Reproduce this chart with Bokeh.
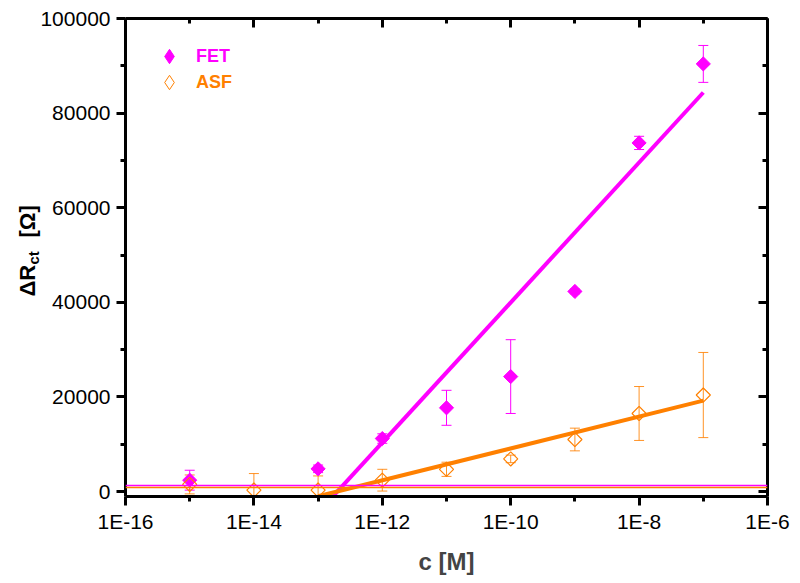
import numpy as np
from bokeh.plotting import figure
from bokeh.models import (Range1d, FixedTicker, CustomJSTickFormatter, LogAxis, LinearAxis,
                          Whisker, TeeHead, ColumnDataSource, Span, Legend, LegendItem, Title)
from bokeh.core.properties import value
from bokeh.embed import file_html
from bokeh.resources import INLINE

# ---------------- data ----------------
fet_conc = [1e-15, 1e-13, 1e-12, 1e-11, 1e-10, 1e-9, 1e-8, 1e-7]
fet_val = [2400, 4800, 11200, 17700, 24300, 42300, 73700, 90400]
fet_err = [2100, 800, 1000, 3700, 7800, 500, 1400, 3900]

asf_conc = [1e-15, 1e-14, 1e-13, 1e-12, 1e-11, 1e-10, 1e-9, 1e-8, 1e-7]
asf_val = [1500, 300, 300, 2400, 4700, 6900, 11000, 16500, 20400]
asf_err = [2000, 3500, 3000, 2300, 1500, 800, 2400, 5700, 9000]

# linear fits in log10(c): y = slope * (log10(c) - log0)
fet_slope, fet_log0, fet_fit_range = 14800, -12.7, [-12.77, -7]
asf_slope, asf_log0, asf_fit_range = 3370, -12.703, [-13, -7]

# blank (baseline) levels
fet_blank = 1300
asf_blank = 850

x_major = [1e-16, 1e-14, 1e-12, 1e-10, 1e-8, 1e-6]
x_minor = [1e-15, 1e-13, 1e-11, 1e-9, 1e-7]
y_major = [0, 20000, 40000, 60000, 80000, 100000]
y_minor = [10000, 30000, 50000, 70000, 90000]

MAG = "#FF00FF"
ORG = "#FF8000"
FONT = "Liberation Sans"

p = figure(width=800, height=583, x_axis_type="log",
           x_range=Range1d(1e-16, 1e-6), y_range=Range1d(-1050, 100000),
           output_backend="svg", toolbar_location=None,
           min_border_left=125, min_border_right=33, min_border_top=18, min_border_bottom=87)
p.xgrid.visible = False
p.ygrid.visible = False
p.outline_line_color = None
p.background_fill_color = "white"
p.border_fill_color = "white"

xfmt = CustomJSTickFormatter(code="return '1E' + Math.round(Math.log10(tick));")
yfmt = CustomJSTickFormatter(code="return tick.toFixed(0);")
blank = CustomJSTickFormatter(code="return '';")


def style_axis(ax, ticks, minor, fmt, inward):
    ax.ticker = FixedTicker(ticks=ticks, minor_ticks=minor)
    ax.formatter = fmt
    ax.axis_line_width = 3
    ax.axis_line_color = "black"
    ax.major_tick_line_width = 3
    ax.minor_tick_line_width = 3
    ax.major_tick_line_color = "black"
    ax.minor_tick_line_color = "black"
    ax.major_label_text_font = FONT
    ax.major_label_text_font_size = "21px"
    ax.major_label_text_color = "black"
    if inward:
        ax.major_tick_in, ax.major_tick_out = 9, 0
        ax.minor_tick_in, ax.minor_tick_out = 5, 0
        ax.major_label_standoff = 0
    else:
        ax.major_tick_in, ax.major_tick_out = 0, 9
        ax.minor_tick_in, ax.minor_tick_out = 0, 5


bx = p.xaxis[0]
style_axis(bx, x_major, x_minor, xfmt, False)
bx.major_label_standoff = 4
bx.axis_label = "c [M]"
bx.axis_label_text_font = FONT
bx.axis_label_text_font_style = "bold"
bx.axis_label_text_font_size = "24px"
bx.axis_label_standoff = 12

ly = p.yaxis[0]
style_axis(ly, y_major, y_minor, yfmt, False)
ly.major_label_standoff = 6

top = LogAxis()
style_axis(top, x_major, x_minor, blank, True)
p.add_layout(top, "above")

right = LinearAxis()
style_axis(right, y_major, y_minor, blank, True)
p.add_layout(right, "right")

# baselines
p.add_layout(Span(location=fet_blank, dimension="width", line_color=MAG, line_width=1.5))
p.add_layout(Span(location=asf_blank, dimension="width", line_color=ORG, line_width=1.5))

# fits
fl = np.array(fet_fit_range, dtype=float)
p.line(10 ** fl, fet_slope * (fl - fet_log0), line_color=MAG, line_width=4)
al = np.array(asf_fit_range, dtype=float)
p.line(10 ** al, asf_slope * (al - asf_log0), line_color=ORG, line_width=4)

# error bars
fsrc = ColumnDataSource(dict(x=fet_conc, y=fet_val,
                             lo=np.array(fet_val) - np.array(fet_err),
                             hi=np.array(fet_val) + np.array(fet_err)))
asrc = ColumnDataSource(dict(x=asf_conc, y=asf_val,
                             lo=np.array(asf_val) - np.array(asf_err),
                             hi=np.array(asf_val) + np.array(asf_err)))
p.add_layout(Whisker(source=fsrc, base="x", upper="hi", lower="lo", line_color=MAG, line_width=1,
                     upper_head=TeeHead(size=10, line_color=MAG, line_width=1),
                     lower_head=TeeHead(size=10, line_color=MAG, line_width=1)))
p.add_layout(Whisker(source=asrc, base="x", upper="hi", lower="lo", line_color=ORG, line_width=1,
                     line_alpha=0.85,
                     upper_head=TeeHead(size=10, line_color=ORG, line_width=1, line_alpha=0.85),
                     lower_head=TeeHead(size=10, line_color=ORG, line_width=1, line_alpha=0.85)))

fr = p.scatter("x", "y", source=fsrc, marker="square", angle=np.pi / 4, size=10,
               fill_color=MAG, line_color=MAG, line_width=1)
ar = p.scatter("x", "y", source=asrc, marker="square", angle=np.pi / 4, size=10,
               fill_color=None, line_color=ORG, line_width=1.2)

# legend glyph proxies: zero-size markers (the legend sizes its glyph itself and
# does not rotate markers, so a diamond marker is used for the key)
fr_leg = p.scatter("x", "y", source=fsrc, marker="diamond", size=0,
                   fill_color=MAG, line_color=MAG, line_width=1)
ar_leg = p.scatter("x", "y", source=asrc, marker="diamond", size=0,
                   fill_color=None, line_color=ORG, line_width=1)

for r, lab, col, yloc in [(fr_leg, "FET", MAG, 422), (ar_leg, "ASF", ORG, 396)]:
    leg = Legend(items=[LegendItem(label=value(lab), renderers=[r])], location=(26, yloc),
                 padding=0, margin=0, spacing=0, glyph_width=36, glyph_height=36,
                 label_standoff=9, label_text_font=FONT, label_text_font_style="bold",
                 label_text_font_size="18px", label_text_color=col,
                 border_line_color=None, background_fill_alpha=0)
    p.add_layout(leg)

# y-axis label "ΔR_ct [Ω]" built from side titles (subscript in its own title)
t_ct = Title(text="ct", align="left", vertical_align="bottom", offset=232, standoff=-8,
             text_font=FONT, text_font_style="bold", text_font_size="15px", text_color="black")
t_main = Title(text="ΔR", align="left", vertical_align="bottom", offset=200, standoff=-27,
               text_font=FONT, text_font_style="bold", text_font_size="22px", text_color="black")
t_unit = Title(text="[Ω]", align="left", vertical_align="bottom", offset=259, standoff=-27,
               text_font=FONT, text_font_style="bold", text_font_size="22px", text_color="black")
p.add_layout(t_ct, "left")
p.add_layout(t_main, "left")
p.add_layout(t_unit, "left")

open("out.html", "w").write(file_html(p, INLINE))
